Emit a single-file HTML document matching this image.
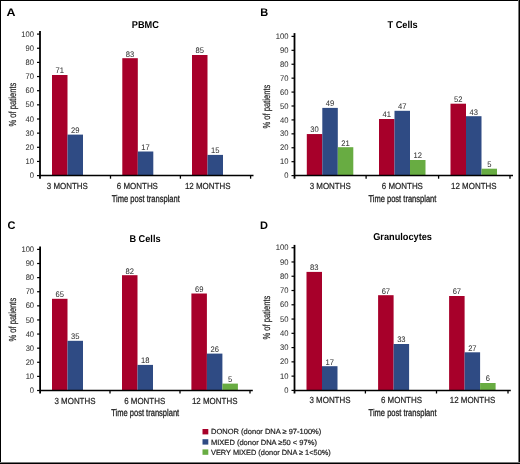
<!DOCTYPE html><html><head><meta charset="utf-8"><style>
html,body{margin:0;padding:0;background:#fff;}
body{width:520px;height:464px;overflow:hidden;position:relative;}
svg{position:absolute;left:0;top:0;will-change:transform;}
text{font-family:"Liberation Sans", sans-serif;text-rendering:geometricPrecision;}
text.r{stroke:#222222;stroke-width:0.2px;}
text.t{stroke-width:0.04px;fill:#333;}
</style></head><body>
<svg width="520" height="464" viewBox="0 0 520 464">
<rect x="0" y="0" width="520" height="464" fill="#fff"/>
<text x="6.60" y="15.90" font-size="11.00" font-weight="bold" textLength="9.00" lengthAdjust="spacingAndGlyphs" fill="#000">A</text>
<text x="145.30" y="28.20" font-size="9.90" font-weight="bold" text-anchor="middle" textLength="27.09" lengthAdjust="spacingAndGlyphs" fill="#000">PBMC</text>
<rect x="52.00" y="75.00" width="15.50" height="100.60" fill="#a7002a"/>
<text x="59.75" y="73.40" font-size="8.10" text-anchor="middle" textLength="8.45" lengthAdjust="spacingAndGlyphs" class="r t" fill="#222222">71</text>
<rect x="67.50" y="134.60" width="15.50" height="41.00" fill="#2f4b84"/>
<text x="75.25" y="133.00" font-size="8.10" text-anchor="middle" textLength="8.45" lengthAdjust="spacingAndGlyphs" class="r t" fill="#222222">29</text>
<rect x="122.30" y="58.20" width="15.50" height="117.40" fill="#a7002a"/>
<text x="130.05" y="56.60" font-size="8.10" text-anchor="middle" textLength="8.45" lengthAdjust="spacingAndGlyphs" class="r t" fill="#222222">83</text>
<rect x="137.80" y="151.50" width="15.50" height="24.10" fill="#2f4b84"/>
<text x="145.55" y="149.90" font-size="8.10" text-anchor="middle" textLength="8.45" lengthAdjust="spacingAndGlyphs" class="r t" fill="#222222">17</text>
<rect x="192.00" y="55.00" width="15.50" height="120.60" fill="#a7002a"/>
<text x="199.75" y="53.40" font-size="8.10" text-anchor="middle" textLength="8.45" lengthAdjust="spacingAndGlyphs" class="r t" fill="#222222">85</text>
<rect x="207.50" y="154.90" width="15.50" height="20.70" fill="#2f4b84"/>
<text x="215.25" y="153.30" font-size="8.10" text-anchor="middle" textLength="8.45" lengthAdjust="spacingAndGlyphs" class="r t" fill="#222222">15</text>
<line x1="40.00" y1="31.10" x2="40.00" y2="178.70" stroke="#000" stroke-width="1.8"/>
<line x1="37.00" y1="175.60" x2="40.00" y2="175.60" stroke="#000" stroke-width="1.2"/>
<text x="34.00" y="178.20" font-size="8.10" text-anchor="end" textLength="4.23" lengthAdjust="spacingAndGlyphs" class="r t" fill="#222222">0</text>
<line x1="37.00" y1="161.45" x2="40.00" y2="161.45" stroke="#000" stroke-width="1.2"/>
<text x="34.00" y="164.05" font-size="8.10" text-anchor="end" textLength="8.45" lengthAdjust="spacingAndGlyphs" class="r t" fill="#222222">10</text>
<line x1="37.00" y1="147.30" x2="40.00" y2="147.30" stroke="#000" stroke-width="1.2"/>
<text x="34.00" y="149.90" font-size="8.10" text-anchor="end" textLength="8.45" lengthAdjust="spacingAndGlyphs" class="r t" fill="#222222">20</text>
<line x1="37.00" y1="133.15" x2="40.00" y2="133.15" stroke="#000" stroke-width="1.2"/>
<text x="34.00" y="135.75" font-size="8.10" text-anchor="end" textLength="8.45" lengthAdjust="spacingAndGlyphs" class="r t" fill="#222222">30</text>
<line x1="37.00" y1="119.00" x2="40.00" y2="119.00" stroke="#000" stroke-width="1.2"/>
<text x="34.00" y="121.60" font-size="8.10" text-anchor="end" textLength="8.45" lengthAdjust="spacingAndGlyphs" class="r t" fill="#222222">40</text>
<line x1="37.00" y1="104.85" x2="40.00" y2="104.85" stroke="#000" stroke-width="1.2"/>
<text x="34.00" y="107.45" font-size="8.10" text-anchor="end" textLength="8.45" lengthAdjust="spacingAndGlyphs" class="r t" fill="#222222">50</text>
<line x1="37.00" y1="90.70" x2="40.00" y2="90.70" stroke="#000" stroke-width="1.2"/>
<text x="34.00" y="93.30" font-size="8.10" text-anchor="end" textLength="8.45" lengthAdjust="spacingAndGlyphs" class="r t" fill="#222222">60</text>
<line x1="37.00" y1="76.55" x2="40.00" y2="76.55" stroke="#000" stroke-width="1.2"/>
<text x="34.00" y="79.15" font-size="8.10" text-anchor="end" textLength="8.45" lengthAdjust="spacingAndGlyphs" class="r t" fill="#222222">70</text>
<line x1="37.00" y1="62.40" x2="40.00" y2="62.40" stroke="#000" stroke-width="1.2"/>
<text x="34.00" y="65.00" font-size="8.10" text-anchor="end" textLength="8.45" lengthAdjust="spacingAndGlyphs" class="r t" fill="#222222">80</text>
<line x1="37.00" y1="48.25" x2="40.00" y2="48.25" stroke="#000" stroke-width="1.2"/>
<text x="34.00" y="50.85" font-size="8.10" text-anchor="end" textLength="8.45" lengthAdjust="spacingAndGlyphs" class="r t" fill="#222222">90</text>
<line x1="37.00" y1="34.10" x2="40.00" y2="34.10" stroke="#000" stroke-width="1.2"/>
<text x="34.00" y="36.70" font-size="8.10" text-anchor="end" textLength="12.68" lengthAdjust="spacingAndGlyphs" class="r t" fill="#222222">100</text>
<line x1="40.00" y1="175.60" x2="253.50" y2="175.60" stroke="#000" stroke-width="1.5"/>
<line x1="110.50" y1="175.60" x2="110.50" y2="178.70" stroke="#000" stroke-width="1.3"/>
<line x1="180.40" y1="175.60" x2="180.40" y2="178.70" stroke="#000" stroke-width="1.3"/>
<line x1="250.60" y1="175.60" x2="250.60" y2="178.70" stroke="#000" stroke-width="1.3"/>
<text x="67.30" y="188.65" font-size="8.80" text-anchor="middle" textLength="41.08" lengthAdjust="spacingAndGlyphs" class="r " fill="#222222">3 MONTHS</text>
<text x="137.40" y="188.65" font-size="8.80" text-anchor="middle" textLength="41.08" lengthAdjust="spacingAndGlyphs" class="r " fill="#222222">6 MONTHS</text>
<text x="207.70" y="188.65" font-size="8.80" text-anchor="middle" textLength="45.50" lengthAdjust="spacingAndGlyphs" class="r " fill="#222222">12 MONTHS</text>
<text x="145.80" y="201.80" font-size="9.80" text-anchor="middle" textLength="68.00" lengthAdjust="spacingAndGlyphs" class="r " fill="#222222" style="stroke-width:0.3px">Time post transplant</text>
<text x="0.00" y="0.00" font-size="10.20" text-anchor="middle" textLength="43.80" lengthAdjust="spacingAndGlyphs" class="r " fill="#222222" transform="translate(15.70,104.60) rotate(-90)">% of patients</text>
<text x="260.30" y="15.90" font-size="11.00" font-weight="bold" fill="#000">B</text>
<text x="402.60" y="27.80" font-size="9.90" font-weight="bold" text-anchor="middle" textLength="30.17" lengthAdjust="spacingAndGlyphs" fill="#000">T Cells</text>
<rect x="306.80" y="134.05" width="15.50" height="41.55" fill="#a7002a"/>
<text x="314.55" y="132.45" font-size="8.10" text-anchor="middle" textLength="8.45" lengthAdjust="spacingAndGlyphs" class="r t" fill="#222222">30</text>
<rect x="322.30" y="107.90" width="15.50" height="67.70" fill="#2f4b84"/>
<text x="330.05" y="106.30" font-size="8.10" text-anchor="middle" textLength="8.45" lengthAdjust="spacingAndGlyphs" class="r t" fill="#222222">49</text>
<rect x="337.80" y="147.20" width="15.50" height="28.40" fill="#68ac42"/>
<text x="345.55" y="145.60" font-size="8.10" text-anchor="middle" textLength="8.45" lengthAdjust="spacingAndGlyphs" class="r t" fill="#222222">21</text>
<rect x="379.00" y="119.00" width="15.50" height="56.60" fill="#a7002a"/>
<text x="386.75" y="117.40" font-size="8.10" text-anchor="middle" textLength="8.45" lengthAdjust="spacingAndGlyphs" class="r t" fill="#222222">41</text>
<rect x="394.50" y="110.80" width="15.50" height="64.80" fill="#2f4b84"/>
<text x="402.25" y="109.20" font-size="8.10" text-anchor="middle" textLength="8.45" lengthAdjust="spacingAndGlyphs" class="r t" fill="#222222">47</text>
<rect x="410.00" y="160.00" width="15.50" height="15.60" fill="#68ac42"/>
<text x="417.75" y="158.40" font-size="8.10" text-anchor="middle" textLength="8.45" lengthAdjust="spacingAndGlyphs" class="r t" fill="#222222">12</text>
<rect x="450.50" y="103.70" width="15.50" height="71.90" fill="#a7002a"/>
<text x="458.25" y="102.10" font-size="8.10" text-anchor="middle" textLength="8.45" lengthAdjust="spacingAndGlyphs" class="r t" fill="#222222">52</text>
<rect x="466.00" y="116.20" width="15.50" height="59.40" fill="#2f4b84"/>
<text x="473.75" y="114.60" font-size="8.10" text-anchor="middle" textLength="8.45" lengthAdjust="spacingAndGlyphs" class="r t" fill="#222222">43</text>
<rect x="481.50" y="168.70" width="15.50" height="6.90" fill="#68ac42"/>
<text x="489.25" y="167.10" font-size="8.10" text-anchor="middle" textLength="4.23" lengthAdjust="spacingAndGlyphs" class="r t" fill="#222222">5</text>
<line x1="294.50" y1="33.10" x2="294.50" y2="178.70" stroke="#000" stroke-width="1.8"/>
<line x1="291.50" y1="175.60" x2="294.50" y2="175.60" stroke="#000" stroke-width="1.2"/>
<text x="288.50" y="178.20" font-size="8.10" text-anchor="end" textLength="4.23" lengthAdjust="spacingAndGlyphs" class="r t" fill="#222222">0</text>
<line x1="291.50" y1="161.68" x2="294.50" y2="161.68" stroke="#000" stroke-width="1.2"/>
<text x="288.50" y="164.28" font-size="8.10" text-anchor="end" textLength="8.45" lengthAdjust="spacingAndGlyphs" class="r t" fill="#222222">10</text>
<line x1="291.50" y1="147.76" x2="294.50" y2="147.76" stroke="#000" stroke-width="1.2"/>
<text x="288.50" y="150.36" font-size="8.10" text-anchor="end" textLength="8.45" lengthAdjust="spacingAndGlyphs" class="r t" fill="#222222">20</text>
<line x1="291.50" y1="133.84" x2="294.50" y2="133.84" stroke="#000" stroke-width="1.2"/>
<text x="288.50" y="136.44" font-size="8.10" text-anchor="end" textLength="8.45" lengthAdjust="spacingAndGlyphs" class="r t" fill="#222222">30</text>
<line x1="291.50" y1="119.92" x2="294.50" y2="119.92" stroke="#000" stroke-width="1.2"/>
<text x="288.50" y="122.52" font-size="8.10" text-anchor="end" textLength="8.45" lengthAdjust="spacingAndGlyphs" class="r t" fill="#222222">40</text>
<line x1="291.50" y1="106.00" x2="294.50" y2="106.00" stroke="#000" stroke-width="1.2"/>
<text x="288.50" y="108.60" font-size="8.10" text-anchor="end" textLength="8.45" lengthAdjust="spacingAndGlyphs" class="r t" fill="#222222">50</text>
<line x1="291.50" y1="92.08" x2="294.50" y2="92.08" stroke="#000" stroke-width="1.2"/>
<text x="288.50" y="94.68" font-size="8.10" text-anchor="end" textLength="8.45" lengthAdjust="spacingAndGlyphs" class="r t" fill="#222222">60</text>
<line x1="291.50" y1="78.16" x2="294.50" y2="78.16" stroke="#000" stroke-width="1.2"/>
<text x="288.50" y="80.76" font-size="8.10" text-anchor="end" textLength="8.45" lengthAdjust="spacingAndGlyphs" class="r t" fill="#222222">70</text>
<line x1="291.50" y1="64.24" x2="294.50" y2="64.24" stroke="#000" stroke-width="1.2"/>
<text x="288.50" y="66.84" font-size="8.10" text-anchor="end" textLength="8.45" lengthAdjust="spacingAndGlyphs" class="r t" fill="#222222">80</text>
<line x1="291.50" y1="50.32" x2="294.50" y2="50.32" stroke="#000" stroke-width="1.2"/>
<text x="288.50" y="52.92" font-size="8.10" text-anchor="end" textLength="8.45" lengthAdjust="spacingAndGlyphs" class="r t" fill="#222222">90</text>
<line x1="291.50" y1="36.40" x2="294.50" y2="36.40" stroke="#000" stroke-width="1.2"/>
<text x="288.50" y="39.00" font-size="8.10" text-anchor="end" textLength="12.68" lengthAdjust="spacingAndGlyphs" class="r t" fill="#222222">100</text>
<line x1="294.50" y1="175.60" x2="513.00" y2="175.60" stroke="#000" stroke-width="1.5"/>
<line x1="366.10" y1="175.60" x2="366.10" y2="178.70" stroke="#000" stroke-width="1.3"/>
<line x1="438.60" y1="175.60" x2="438.60" y2="178.70" stroke="#000" stroke-width="1.3"/>
<line x1="510.00" y1="175.60" x2="510.00" y2="178.70" stroke="#000" stroke-width="1.3"/>
<text x="330.20" y="188.65" font-size="8.80" text-anchor="middle" textLength="41.08" lengthAdjust="spacingAndGlyphs" class="r " fill="#222222">3 MONTHS</text>
<text x="402.40" y="188.65" font-size="8.80" text-anchor="middle" textLength="41.08" lengthAdjust="spacingAndGlyphs" class="r " fill="#222222">6 MONTHS</text>
<text x="473.80" y="188.65" font-size="8.80" text-anchor="middle" textLength="45.50" lengthAdjust="spacingAndGlyphs" class="r " fill="#222222">12 MONTHS</text>
<text x="402.40" y="201.60" font-size="9.80" text-anchor="middle" textLength="68.00" lengthAdjust="spacingAndGlyphs" class="r " fill="#222222" style="stroke-width:0.3px">Time post transplant</text>
<text x="0.00" y="0.00" font-size="10.20" text-anchor="middle" textLength="43.80" lengthAdjust="spacingAndGlyphs" class="r " fill="#222222" transform="translate(269.60,106.60) rotate(-90)">% of patients</text>
<text x="7.50" y="228.80" font-size="11.00" font-weight="bold" fill="#000">C</text>
<text x="145.00" y="241.70" font-size="9.90" font-weight="bold" text-anchor="middle" textLength="31.19" lengthAdjust="spacingAndGlyphs" fill="#000">B Cells</text>
<rect x="52.00" y="298.80" width="15.50" height="91.70" fill="#a7002a"/>
<text x="59.75" y="297.20" font-size="8.10" text-anchor="middle" textLength="8.45" lengthAdjust="spacingAndGlyphs" class="r t" fill="#222222">65</text>
<rect x="67.50" y="340.80" width="15.50" height="49.70" fill="#2f4b84"/>
<text x="75.25" y="339.20" font-size="8.10" text-anchor="middle" textLength="8.45" lengthAdjust="spacingAndGlyphs" class="r t" fill="#222222">35</text>
<rect x="122.00" y="275.20" width="15.50" height="115.30" fill="#a7002a"/>
<text x="129.75" y="273.60" font-size="8.10" text-anchor="middle" textLength="8.45" lengthAdjust="spacingAndGlyphs" class="r t" fill="#222222">82</text>
<rect x="137.50" y="364.90" width="15.50" height="25.60" fill="#2f4b84"/>
<text x="145.25" y="363.30" font-size="8.10" text-anchor="middle" textLength="8.45" lengthAdjust="spacingAndGlyphs" class="r t" fill="#222222">18</text>
<rect x="191.40" y="293.50" width="15.50" height="97.00" fill="#a7002a"/>
<text x="199.15" y="291.90" font-size="8.10" text-anchor="middle" textLength="8.45" lengthAdjust="spacingAndGlyphs" class="r t" fill="#222222">69</text>
<rect x="206.90" y="353.60" width="15.50" height="36.90" fill="#2f4b84"/>
<text x="214.65" y="352.00" font-size="8.10" text-anchor="middle" textLength="8.45" lengthAdjust="spacingAndGlyphs" class="r t" fill="#222222">26</text>
<rect x="222.40" y="383.60" width="15.50" height="6.90" fill="#68ac42"/>
<text x="230.15" y="382.00" font-size="8.10" text-anchor="middle" textLength="4.23" lengthAdjust="spacingAndGlyphs" class="r t" fill="#222222">5</text>
<line x1="40.10" y1="246.60" x2="40.10" y2="393.60" stroke="#000" stroke-width="1.8"/>
<line x1="37.10" y1="390.50" x2="40.10" y2="390.50" stroke="#000" stroke-width="1.2"/>
<text x="34.10" y="393.10" font-size="8.10" text-anchor="end" textLength="4.23" lengthAdjust="spacingAndGlyphs" class="r t" fill="#222222">0</text>
<line x1="37.10" y1="376.39" x2="40.10" y2="376.39" stroke="#000" stroke-width="1.2"/>
<text x="34.10" y="378.99" font-size="8.10" text-anchor="end" textLength="8.45" lengthAdjust="spacingAndGlyphs" class="r t" fill="#222222">10</text>
<line x1="37.10" y1="362.28" x2="40.10" y2="362.28" stroke="#000" stroke-width="1.2"/>
<text x="34.10" y="364.88" font-size="8.10" text-anchor="end" textLength="8.45" lengthAdjust="spacingAndGlyphs" class="r t" fill="#222222">20</text>
<line x1="37.10" y1="348.17" x2="40.10" y2="348.17" stroke="#000" stroke-width="1.2"/>
<text x="34.10" y="350.77" font-size="8.10" text-anchor="end" textLength="8.45" lengthAdjust="spacingAndGlyphs" class="r t" fill="#222222">30</text>
<line x1="37.10" y1="334.06" x2="40.10" y2="334.06" stroke="#000" stroke-width="1.2"/>
<text x="34.10" y="336.66" font-size="8.10" text-anchor="end" textLength="8.45" lengthAdjust="spacingAndGlyphs" class="r t" fill="#222222">40</text>
<line x1="37.10" y1="319.95" x2="40.10" y2="319.95" stroke="#000" stroke-width="1.2"/>
<text x="34.10" y="322.55" font-size="8.10" text-anchor="end" textLength="8.45" lengthAdjust="spacingAndGlyphs" class="r t" fill="#222222">50</text>
<line x1="37.10" y1="305.84" x2="40.10" y2="305.84" stroke="#000" stroke-width="1.2"/>
<text x="34.10" y="308.44" font-size="8.10" text-anchor="end" textLength="8.45" lengthAdjust="spacingAndGlyphs" class="r t" fill="#222222">60</text>
<line x1="37.10" y1="291.73" x2="40.10" y2="291.73" stroke="#000" stroke-width="1.2"/>
<text x="34.10" y="294.33" font-size="8.10" text-anchor="end" textLength="8.45" lengthAdjust="spacingAndGlyphs" class="r t" fill="#222222">70</text>
<line x1="37.10" y1="277.62" x2="40.10" y2="277.62" stroke="#000" stroke-width="1.2"/>
<text x="34.10" y="280.22" font-size="8.10" text-anchor="end" textLength="8.45" lengthAdjust="spacingAndGlyphs" class="r t" fill="#222222">80</text>
<line x1="37.10" y1="263.51" x2="40.10" y2="263.51" stroke="#000" stroke-width="1.2"/>
<text x="34.10" y="266.11" font-size="8.10" text-anchor="end" textLength="8.45" lengthAdjust="spacingAndGlyphs" class="r t" fill="#222222">90</text>
<line x1="37.10" y1="249.40" x2="40.10" y2="249.40" stroke="#000" stroke-width="1.2"/>
<text x="34.10" y="252.00" font-size="8.10" text-anchor="end" textLength="12.68" lengthAdjust="spacingAndGlyphs" class="r t" fill="#222222">100</text>
<line x1="40.10" y1="390.50" x2="252.80" y2="390.50" stroke="#000" stroke-width="1.5"/>
<line x1="110.00" y1="390.50" x2="110.00" y2="393.60" stroke="#000" stroke-width="1.3"/>
<line x1="180.00" y1="390.50" x2="180.00" y2="393.60" stroke="#000" stroke-width="1.3"/>
<line x1="250.00" y1="390.50" x2="250.00" y2="393.60" stroke="#000" stroke-width="1.3"/>
<text x="75.00" y="403.55" font-size="8.80" text-anchor="middle" textLength="41.08" lengthAdjust="spacingAndGlyphs" class="r " fill="#222222">3 MONTHS</text>
<text x="144.70" y="403.55" font-size="8.80" text-anchor="middle" textLength="41.08" lengthAdjust="spacingAndGlyphs" class="r " fill="#222222">6 MONTHS</text>
<text x="214.70" y="403.55" font-size="8.80" text-anchor="middle" textLength="45.50" lengthAdjust="spacingAndGlyphs" class="r " fill="#222222">12 MONTHS</text>
<text x="145.20" y="416.00" font-size="9.80" text-anchor="middle" textLength="68.00" lengthAdjust="spacingAndGlyphs" class="r " fill="#222222" style="stroke-width:0.3px">Time post transplant</text>
<text x="0.00" y="0.00" font-size="10.20" text-anchor="middle" textLength="43.80" lengthAdjust="spacingAndGlyphs" class="r " fill="#222222" transform="translate(15.80,319.70) rotate(-90)">% of patients</text>
<text x="260.00" y="229.00" font-size="11.00" font-weight="bold" fill="#000">D</text>
<text x="402.60" y="240.00" font-size="9.90" font-weight="bold" text-anchor="middle" textLength="58.80" lengthAdjust="spacingAndGlyphs" fill="#000">Granulocytes</text>
<rect x="306.50" y="271.90" width="15.50" height="118.50" fill="#a7002a"/>
<text x="314.25" y="270.30" font-size="8.10" text-anchor="middle" textLength="8.45" lengthAdjust="spacingAndGlyphs" class="r t" fill="#222222">83</text>
<rect x="322.00" y="366.20" width="15.50" height="24.20" fill="#2f4b84"/>
<text x="329.75" y="364.60" font-size="8.10" text-anchor="middle" textLength="8.45" lengthAdjust="spacingAndGlyphs" class="r t" fill="#222222">17</text>
<rect x="378.10" y="295.20" width="15.50" height="95.20" fill="#a7002a"/>
<text x="385.85" y="293.60" font-size="8.10" text-anchor="middle" textLength="8.45" lengthAdjust="spacingAndGlyphs" class="r t" fill="#222222">67</text>
<rect x="393.60" y="344.00" width="15.50" height="46.40" fill="#2f4b84"/>
<text x="401.35" y="342.40" font-size="8.10" text-anchor="middle" textLength="8.45" lengthAdjust="spacingAndGlyphs" class="r t" fill="#222222">33</text>
<rect x="449.10" y="296.00" width="15.50" height="94.40" fill="#a7002a"/>
<text x="456.85" y="294.40" font-size="8.10" text-anchor="middle" textLength="8.45" lengthAdjust="spacingAndGlyphs" class="r t" fill="#222222">67</text>
<rect x="464.60" y="352.30" width="15.50" height="38.10" fill="#2f4b84"/>
<text x="472.35" y="350.70" font-size="8.10" text-anchor="middle" textLength="8.45" lengthAdjust="spacingAndGlyphs" class="r t" fill="#222222">27</text>
<rect x="480.10" y="383.00" width="15.50" height="7.40" fill="#68ac42"/>
<text x="487.85" y="381.40" font-size="8.10" text-anchor="middle" textLength="4.23" lengthAdjust="spacingAndGlyphs" class="r t" fill="#222222">6</text>
<line x1="294.50" y1="244.90" x2="294.50" y2="393.50" stroke="#000" stroke-width="1.8"/>
<line x1="291.50" y1="390.40" x2="294.50" y2="390.40" stroke="#000" stroke-width="1.2"/>
<text x="288.50" y="393.00" font-size="8.10" text-anchor="end" textLength="4.23" lengthAdjust="spacingAndGlyphs" class="r t" fill="#222222">0</text>
<line x1="291.50" y1="376.13" x2="294.50" y2="376.13" stroke="#000" stroke-width="1.2"/>
<text x="288.50" y="378.73" font-size="8.10" text-anchor="end" textLength="8.45" lengthAdjust="spacingAndGlyphs" class="r t" fill="#222222">10</text>
<line x1="291.50" y1="361.86" x2="294.50" y2="361.86" stroke="#000" stroke-width="1.2"/>
<text x="288.50" y="364.46" font-size="8.10" text-anchor="end" textLength="8.45" lengthAdjust="spacingAndGlyphs" class="r t" fill="#222222">20</text>
<line x1="291.50" y1="347.59" x2="294.50" y2="347.59" stroke="#000" stroke-width="1.2"/>
<text x="288.50" y="350.19" font-size="8.10" text-anchor="end" textLength="8.45" lengthAdjust="spacingAndGlyphs" class="r t" fill="#222222">30</text>
<line x1="291.50" y1="333.32" x2="294.50" y2="333.32" stroke="#000" stroke-width="1.2"/>
<text x="288.50" y="335.92" font-size="8.10" text-anchor="end" textLength="8.45" lengthAdjust="spacingAndGlyphs" class="r t" fill="#222222">40</text>
<line x1="291.50" y1="319.05" x2="294.50" y2="319.05" stroke="#000" stroke-width="1.2"/>
<text x="288.50" y="321.65" font-size="8.10" text-anchor="end" textLength="8.45" lengthAdjust="spacingAndGlyphs" class="r t" fill="#222222">50</text>
<line x1="291.50" y1="304.78" x2="294.50" y2="304.78" stroke="#000" stroke-width="1.2"/>
<text x="288.50" y="307.38" font-size="8.10" text-anchor="end" textLength="8.45" lengthAdjust="spacingAndGlyphs" class="r t" fill="#222222">60</text>
<line x1="291.50" y1="290.51" x2="294.50" y2="290.51" stroke="#000" stroke-width="1.2"/>
<text x="288.50" y="293.11" font-size="8.10" text-anchor="end" textLength="8.45" lengthAdjust="spacingAndGlyphs" class="r t" fill="#222222">70</text>
<line x1="291.50" y1="276.24" x2="294.50" y2="276.24" stroke="#000" stroke-width="1.2"/>
<text x="288.50" y="278.84" font-size="8.10" text-anchor="end" textLength="8.45" lengthAdjust="spacingAndGlyphs" class="r t" fill="#222222">80</text>
<line x1="291.50" y1="261.97" x2="294.50" y2="261.97" stroke="#000" stroke-width="1.2"/>
<text x="288.50" y="264.57" font-size="8.10" text-anchor="end" textLength="8.45" lengthAdjust="spacingAndGlyphs" class="r t" fill="#222222">90</text>
<line x1="291.50" y1="247.70" x2="294.50" y2="247.70" stroke="#000" stroke-width="1.2"/>
<text x="288.50" y="250.30" font-size="8.10" text-anchor="end" textLength="12.68" lengthAdjust="spacingAndGlyphs" class="r t" fill="#222222">100</text>
<line x1="294.50" y1="390.40" x2="510.80" y2="390.40" stroke="#000" stroke-width="1.5"/>
<line x1="365.40" y1="390.40" x2="365.40" y2="393.50" stroke="#000" stroke-width="1.3"/>
<line x1="436.50" y1="390.40" x2="436.50" y2="393.50" stroke="#000" stroke-width="1.3"/>
<line x1="508.00" y1="390.40" x2="508.00" y2="393.50" stroke="#000" stroke-width="1.3"/>
<text x="330.00" y="403.45" font-size="8.80" text-anchor="middle" textLength="41.08" lengthAdjust="spacingAndGlyphs" class="r " fill="#222222">3 MONTHS</text>
<text x="401.50" y="403.45" font-size="8.80" text-anchor="middle" textLength="41.08" lengthAdjust="spacingAndGlyphs" class="r " fill="#222222">6 MONTHS</text>
<text x="472.50" y="403.45" font-size="8.80" text-anchor="middle" textLength="45.50" lengthAdjust="spacingAndGlyphs" class="r " fill="#222222">12 MONTHS</text>
<text x="402.60" y="416.00" font-size="9.80" text-anchor="middle" textLength="68.00" lengthAdjust="spacingAndGlyphs" class="r " fill="#222222" style="stroke-width:0.3px">Time post transplant</text>
<text x="0.00" y="0.00" font-size="10.20" text-anchor="middle" textLength="43.80" lengthAdjust="spacingAndGlyphs" class="r " fill="#222222" transform="translate(269.80,317.60) rotate(-90)">% of patients</text>
<rect x="202.5" y="429.00" width="5.8" height="5.4" fill="#a7002a"/>
<text x="211.00" y="434.40" font-size="7.50" textLength="110.30" lengthAdjust="spacingAndGlyphs" class="r " fill="#222222">DONOR (donor DNA ≥ 97-100%)</text>
<rect x="202.5" y="439.20" width="5.8" height="5.4" fill="#2f4b84"/>
<text x="211.00" y="444.60" font-size="7.50" textLength="105.90" lengthAdjust="spacingAndGlyphs" class="r " fill="#222222">MIXED (donor DNA ≥50 &lt; 97%)</text>
<rect x="202.5" y="449.40" width="5.8" height="5.4" fill="#68ac42"/>
<text x="211.00" y="454.80" font-size="7.50" textLength="119.80" lengthAdjust="spacingAndGlyphs" class="r " fill="#222222">VERY MIXED (donor DNA ≥ 1&lt;50%)</text>
<rect x="0" y="0" width="520" height="1" fill="#000"/>
<rect x="0" y="0" width="1" height="464" fill="#000"/>
<rect x="518" y="0" width="1" height="464" fill="#777"/>
<rect x="519" y="0" width="1" height="464" fill="#000"/>
<rect x="0" y="462" width="520" height="1" fill="#777"/>
<rect x="0" y="463" width="520" height="1" fill="#000"/>
</svg></body></html>
